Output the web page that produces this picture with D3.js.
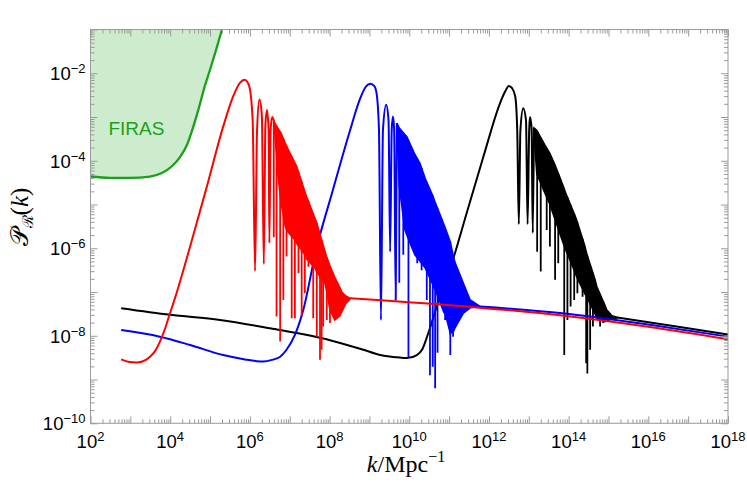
<!DOCTYPE html>
<html>
<head>
<meta charset="utf-8">
<script src="https://cdn.jsdelivr.net/npm/d3@7"></script>
<style>
  body { margin: 0; background: #fff; }
  svg text { font-family: 'Liberation Sans', Arial, sans-serif; }
</style>
</head>
<body>
<div id="graf"></div>
<script>
// Espectro de potencia P_R(k) -- valores leidos del grafico
// todos los puntos son [log10 k, log10 P]

// FIRAS (limite superior)
firas = [[2.00,-4.36],[2.49,-4.39],[2.99,-4.39],[3.49,-4.36],[3.79,-4.28],[4.05,-4.12],
         [4.25,-3.91],[4.42,-3.64],[4.57,-3.25],[4.72,-2.79],[4.87,-2.29],[5.00,-1.92],
         [5.15,-1.47],[5.30,-1.00]]

// curva roja
rojaLinea = [[2.77,-8.54],[2.97,-8.60],[3.17,-8.61],[3.39,-8.55],[3.49,-8.48],[3.62,-8.35],
             [3.74,-8.14],[3.87,-7.84],[3.99,-7.50],[4.12,-7.14],[4.50,-5.96],[4.92,-4.59],
             [5.33,-3.22],[5.58,-2.53],[5.75,-2.22],[5.87,-2.15],[5.98,-2.29],[6.07,-3.07],
             [6.13,-6.52],[6.18,-3.30],[6.24,-2.60],[6.30,-2.95],[6.35,-6.36],[6.39,-3.18],
             [6.43,-2.84],[6.47,-3.30],[6.49,-5.88],[6.52,-3.30],[6.56,-3.00],[6.61,-3.11]]
// zona densa: [log k, arriba, abajo]
rojaBanda = [[6.61,-3.11,-3.2],[6.70,-3.25,-4.3],[6.78,-3.36,-4.95],[6.88,-3.58,-5.47],
             [6.93,-3.68,-5.6],[7.13,-4.05,-5.81],[7.18,-4.14,-5.9],[7.38,-4.70,-6.15],
             [7.43,-4.83,-6.25],[7.63,-5.30,-6.45],[7.68,-5.42,-6.55],[7.88,-6.05,-6.79],
             [7.93,-6.20,-7.0],[8.01,-6.40,-7.41],[8.13,-6.66,-7.64],[8.26,-6.90,-7.55],
             [8.31,-7.00,-7.45],[8.38,-7.06,-7.32],[8.41,-7.09,-7.26],[8.51,-7.14,-7.17]]
rojaPicos = [[6.60,-5.75],[6.67,-7.56],[6.76,-8.13],[6.84,-7.18],[6.92,-6.19],[7.05,-7.60],
             [7.13,-7.60],[7.22,-6.57],[7.30,-7.56],[7.38,-7.03],[7.47,-6.42],[7.59,-7.60],
             [7.68,-8.02],[7.76,-8.55],[7.80,-8.32],[7.84,-7.79],[7.93,-7.64],[8.01,-7.71]]
rojaCola = [[8.51,-7.14],[11.02,-7.30],[13.78,-7.53],[16.04,-7.80],[18.0,-8.08]]

// curva azul
azulLinea = [[2.77,-7.87],[3.74,-8.02],[4.50,-8.21],[5.33,-8.44],[5.88,-8.54],[6.17,-8.58],
             [6.34,-8.59],[6.56,-8.55],[6.76,-8.48],[6.92,-8.32],[7.13,-7.98],[7.34,-7.41],
             [7.66,-6.05],[8.08,-4.68],[8.50,-3.35],[8.75,-2.62],[8.90,-2.32],[9.03,-2.24],
             [9.12,-2.29],[9.18,-2.46],[9.24,-3.30],[9.29,-7.64],[9.34,-3.30],[9.42,-2.72],
             [9.48,-3.07],[9.52,-6.08],[9.56,-3.30],[9.59,-2.99],[9.62,-3.25],[9.66,-7.18],
             [9.69,-3.14]]
azulBanda = [[9.69,-3.14,-3.3],[9.75,-3.25,-4.6],[9.89,-3.40,-5.58],[9.94,-3.45,-5.7],
             [10.14,-3.85,-6.15],[10.27,-4.06,-6.3],[10.40,-4.40,-6.45],[10.60,-4.82,-6.85],
             [10.65,-4.95,-6.95],[10.86,-5.43,-7.45],[10.91,-5.55,-7.52],[11.03,-5.85,-7.95],
             [11.11,-6.19,-7.9],[11.16,-6.35,-7.8],[11.36,-6.80,-7.48],[11.53,-7.18,-7.36],
             [11.78,-7.33,-7.34]]
azulPicos = [[9.75,-6.79],[9.85,-6.15],[9.98,-8.51],[10.09,-5.88],[10.20,-6.34],[10.31,-6.50],
             [10.44,-7.18],[10.52,-8.90],[10.59,-8.71],[10.65,-9.20],[10.71,-8.39],[10.82,-7.25],
             [10.90,-7.64],[11.03,-8.44],[11.10,-8.02]]
azulCola = [[11.78,-7.33],[13.78,-7.48],[16.04,-7.75],[18.0,-8.02]]

// curva negra
negraLinea = [[2.77,-7.37],[4.00,-7.52],[5.25,-7.64],[6.51,-7.83],[8.01,-8.10],[8.85,-8.32],
              [9.27,-8.44],[9.69,-8.49],[9.94,-8.51],[10.19,-8.44],[10.32,-8.32],[10.47,-7.96],
              [10.72,-7.25],[11.11,-6.22],[11.44,-5.20],[11.86,-3.91],[12.28,-2.68],[12.40,-2.43],
              [12.50,-2.29],[12.58,-2.34],[12.66,-2.53],[12.71,-3.30],[12.75,-5.45],[12.79,-3.30],
              [12.86,-2.80],[12.93,-3.07],[12.97,-5.45],[13.01,-3.30],[13.03,-3.00],[13.07,-3.25],
              [13.10,-5.65],[13.13,-3.25]]
negraBanda = [[13.13,-3.25,-3.4],[13.20,-3.30,-4.3],[13.41,-3.65,-4.75],[13.53,-3.83,-5.0],
              [13.66,-4.10,-5.35],[13.87,-4.59,-5.9],[13.91,-4.70,-6.0],[14.16,-5.25,-6.55],
              [14.20,-5.35,-6.65],[14.41,-5.95,-7.05],[14.45,-6.11,-7.1],[14.66,-6.70,-7.5],
              [14.71,-6.88,-7.6],[14.91,-7.30,-7.68],[14.96,-7.41,-7.66],[15.09,-7.54,-7.62],
              [15.22,-7.58,-7.59]]
negraPicos = [[13.21,-6.08],[13.30,-6.53],[13.45,-5.58],[13.53,-5.96],[13.66,-6.72],[13.74,-6.34],
              [13.89,-8.44],[13.97,-7.64],[14.05,-7.33],[14.14,-7.18],[14.22,-7.03],[14.35,-7.11],
              [14.44,-8.63],[14.47,-8.86],[14.54,-8.32],[14.61,-7.79],[14.79,-7.79],[14.87,-7.71]]
negraCola = [[15.22,-7.58],[16.71,-7.79],[18.0,-7.97]]

// etiquetas de ejes
xExps = [2, 4, 6, 8, 10, 12, 14, 16, 18]
yExps = [-10, -8, -6, -4, -2]

ancho_total = 747
alto_total  = 495
margins = { top: 29.5, left: 90.5, right: 19, bottom: 71.7 }
ancho = ancho_total - margins.left - margins.right
alto  = alto_total - margins.top - margins.bottom

svg = d3.select('#graf').append('svg')
        .attr('width', ancho_total)
        .attr('height', alto_total)

g = svg.append('g')
       .attr('transform', `translate(${ margins.left }, ${ margins.top })`)

x = d3.scaleLog().domain([1e2, 1e18]).range([0, ancho])
y = d3.scaleLog().domain([1e-10, 1e-1]).range([alto, 0])

px = d => x(10 ** d[0])
py = d => y(10 ** d[1])

g.append('clipPath').attr('id', 'clip')
  .append('rect').attr('width', ancho).attr('height', alto)

datos = g.append('g').attr('clip-path', 'url(#clip)')

// FIRAS
verde = '#1aa01a'
datos.append('path')
  .datum(firas)
  .attr('fill', '#cdeccd')
  .attr('d', d3.area().x(px).y0(0).y1(py).curve(d3.curveMonotoneX))
datos.append('path')
  .datum(firas)
  .attr('fill', 'none')
  .attr('stroke', verde)
  .attr('stroke-width', 2.3)
  .attr('d', d3.line().x(px).y(py).curve(d3.curveMonotoneX))

linea = d3.line().x(px).y(py).curve(d3.curveMonotoneX)
banda = d3.area().x(px).y0(d => y(10 ** d[2])).y1(d => y(10 ** d[1]))

function curva(color, lin, band, picos, cola) {
  cg = datos.append('g')
  cg.append('path').datum(lin)
    .attr('fill', 'none').attr('stroke', color).attr('stroke-width', 2)
    .attr('stroke-linejoin', 'round')
    .attr('d', linea)
  cg.append('path').datum(band)
    .attr('fill', color).attr('stroke', color).attr('stroke-width', 1.5)
    .attr('d', banda)
  tope = d3.scaleLinear().domain(band.map(d => d[0])).range(band.map(d => d[1])).clamp(true)
  cg.selectAll('line.pico').data(picos).enter().append('line')
    .attr('x1', px).attr('x2', px)
    .attr('y1', d => y(10 ** tope(d[0])))
    .attr('y2', py)
    .attr('stroke', color).attr('stroke-width', 1.8)
  cg.append('path').datum(cola)
    .attr('fill', 'none').attr('stroke', color).attr('stroke-width', 2)
    .attr('d', linea)
}

curva('#000000', negraLinea, negraBanda, negraPicos, negraCola)
curva('#0000ff', azulLinea, azulBanda, azulPicos, azulCola)
curva('#ff0000', rojaLinea, rojaBanda, rojaPicos, rojaCola)

g.append('text')
  .attr('x', x(10 ** 2.45))
  .attr('y', y(10 ** -3.42))
  .attr('fill', verde)
  .attr('font-size', '19px')
  .text('FIRAS')

// Marco y ticks
gris = '#9a9a9a'
xMayor = d3.range(2, 19).map(e => 10 ** e)
xMenor = []
d3.range(2, 18).forEach(e => { for (m = 2; m < 10; m++) xMenor.push(m * 10 ** e) })
yMayor = d3.range(-10, 0).map(e => 10 ** e)
yMenor = []
d3.range(-10, -1).forEach(e => { for (m = 2; m < 10; m++) yMenor.push(m * 10 ** e) })

function ejes(axis, vals, largo, tr) {
  eg = g.append('g')
    .attr('transform', tr)
    .call(axis.tickValues(vals).tickSize(largo).tickFormat(''))
  eg.select('.domain').remove()
  eg.selectAll('line').attr('stroke', gris)
}
ejes(d3.axisBottom(x), xMayor, -7, `translate(0,${alto})`)
ejes(d3.axisBottom(x), xMenor, -4, `translate(0,${alto})`)
ejes(d3.axisTop(x), xMayor, -7, 'translate(0,0)')
ejes(d3.axisTop(x), xMenor, -4, 'translate(0,0)')
ejes(d3.axisLeft(y), yMayor, -7, 'translate(0,0)')
ejes(d3.axisLeft(y), yMenor, -4, 'translate(0,0)')
ejes(d3.axisRight(y), yMayor, -7, `translate(${ancho},0)`)
ejes(d3.axisRight(y), yMenor, -4, `translate(${ancho},0)`)

g.append('rect')
  .attr('width', ancho).attr('height', alto)
  .attr('fill', 'none').attr('stroke', gris).attr('stroke-width', 1)

// etiquetas
xExps.forEach(e => {
  t = g.append('text')
    .attr('x', x(10 ** e))
    .attr('y', alto + 25)
    .attr('text-anchor', 'middle')
    .attr('font-size', '18.5px')
  t.append('tspan').text('10')
  t.append('tspan').attr('dy', -7).attr('font-size', '13px').text(e)
})
yExps.forEach(e => {
  t = g.append('text')
    .attr('x', -5)
    .attr('y', y(10 ** e) + 7)
    .attr('text-anchor', 'end')
    .attr('font-size', '18.5px')
  t.append('tspan').text('10')
  t.append('tspan').attr('dy', -7).attr('font-size', '13px').text('\u2212' + (-e))
})

// titulos
tx = svg.append('text')
  .attr('x', 406)
  .attr('y', 472)
  .attr('text-anchor', 'middle')
  .attr('font-size', '24px')
  .style('font-family', "'Liberation Serif', 'DejaVu Serif', serif")
tx.append('tspan').attr('font-style', 'italic').text('k')
tx.append('tspan').text('/Mpc')
tx.append('tspan').attr('dy', -10).attr('font-size', '16px').text('\u22121')

ty = svg.append('text')
  .attr('transform', 'translate(28, 217) rotate(-90)')
  .attr('text-anchor', 'middle')
  .attr('font-size', '25px')
  .style('font-family', "'DejaVu Serif', 'Liberation Serif', serif")
ty.append('tspan').text('\u{1D4AB}')
ty.append('tspan').attr('dy', 5).attr('font-size', '15px').text('\u211B')
ty.append('tspan').attr('dy', -5).style('font-family', "'Liberation Serif', serif").text('(')
ty.append('tspan').attr('font-style', 'italic').style('font-family', "'Liberation Serif', serif").text('k')
ty.append('tspan').style('font-family', "'Liberation Serif', serif").text(')')
</script>
</body>
</html>
